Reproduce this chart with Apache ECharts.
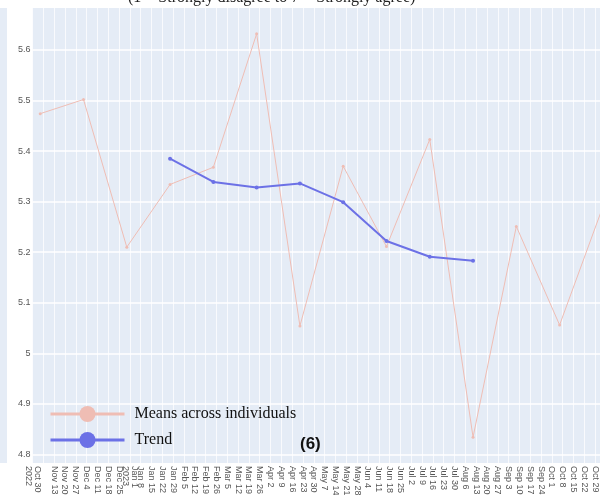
<!DOCTYPE html>
<html>
<head>
<meta charset="utf-8">
<script src="https://cdn.jsdelivr.net/npm/echarts@6/dist/echarts.min.js"></script>
<style>html,body{margin:0;padding:0;background:#fff}#chart{width:600px;height:495px}</style>
</head>
<body>
<div id="chart"></div>
<script>
// weekly tick labels, Oct 30 2022 .. Oct 29 2023
var weekLabels = ['Oct 30\n2022', 'Nov 6', 'Nov 13', 'Nov 20', 'Nov 27', 'Dec 4', 'Dec 11', 'Dec 18', 'Dec 25',
    'Jan 1\n2023', 'Jan 8', 'Jan 15', 'Jan 22', 'Jan 29', 'Feb 5', 'Feb 12', 'Feb 19', 'Feb 26',
    'Mar 5', 'Mar 12', 'Mar 19', 'Mar 26', 'Apr 2', 'Apr 9', 'Apr 16', 'Apr 23', 'Apr 30',
    'May 7', 'May 14', 'May 21', 'May 28', 'Jun 4', 'Jun 11', 'Jun 18', 'Jun 25',
    'Jul 2', 'Jul 9', 'Jul 16', 'Jul 23', 'Jul 30', 'Aug 6', 'Aug 13', 'Aug 20', 'Aug 27',
    'Sep 3', 'Sep 10', 'Sep 17', 'Sep 24', 'Oct 1', 'Oct 8', 'Oct 15', 'Oct 22', 'Oct 29'];
var startDate = '2022-10-30';
var yTicks = [4.8, 4.9, 5, 5.1, 5.2, 5.3, 5.4, 5.5, 5.6];

var meanDates = ['2022-11-04', '2022-12-02', '2022-12-30', '2023-01-27', '2023-02-24', '2023-03-24', '2023-04-21',
    '2023-05-19', '2023-06-16', '2023-07-14', '2023-08-11', '2023-09-08', '2023-10-06', '2023-11-03'];
var meanValues = [5.474, 5.502, 5.210, 5.334, 5.368, 5.632, 5.054, 5.370, 5.211, 5.423, 4.834, 5.251, 5.056, 5.29];

var trendDates = ['2023-01-27', '2023-02-24', '2023-03-24', '2023-04-21', '2023-05-19', '2023-06-16', '2023-07-14', '2023-08-11'];
var trendValues = [5.385, 5.339, 5.328, 5.336, 5.299, 5.222, 5.191, 5.183];

function weekOf(d) {
    return (Date.parse(d) - Date.parse(startDate)) / (7 * 864e5);
}
function pairs(dates, vals) {
    return dates.map(function (d, i) { return [weekOf(d), vals[i]]; });
}

var chart = echarts.init(document.getElementById('chart'));
var option = {
    animation: false,
    title: [{
        text: '(1 = Strongly disagree to 7 = Strongly agree)',
        left: 123,
        top: -15,
        textStyle: {fontFamily: 'Liberation Serif', fontSize: 16, fontWeight: 'normal', color: '#222'}
    }, {
        text: '(6)',
        left: 295,
        top: 431,
        textStyle: {fontFamily: 'Liberation Sans', fontSize: 17, fontWeight: 'bold', color: '#111'}
    }],
    graphic: [{
        type: 'rect', z: -10,
        shape: {x: 0, y: 8, width: 7, height: 455},
        style: {fill: '#E5ECF6'}
    }],
    legend: {
        left: 49,
        top: 406,
        padding: 0,
        orient: 'vertical',
        itemWidth: 74,
        itemHeight: 20,
        itemGap: 10,
        lineStyle: {width: 3},
        textStyle: {fontFamily: 'Liberation Serif', fontSize: 16, color: '#111', padding: [0, 0, 0, 5]},
        data: ['Means across individuals', 'Trend']
    },
    grid: {
        left: 32.5,
        top: 8,
        width: 584.3,
        height: 455,
        outerBoundsMode: 'none',
        containLabel: false,
        show: true,
        backgroundColor: '#E5ECF6',
        borderWidth: 0
    },
    xAxis: {
        type: 'value',
        min: 0,
        max: 54,
        interval: 1,
        axisLine: {show: false},
        axisTick: {show: false},
        splitLine: {lineStyle: {color: '#ffffff', width: 1, opacity: 0.75}},
        axisLabel: {
            rotate: -90,
            margin: 3,
            fontSize: 9,
            lineHeight: 9,
            color: '#555',
            fontFamily: 'Liberation Sans',
            showMinLabel: true,
            formatter: function (v) { return weekLabels[v] || ''; }
        }
    },
    yAxis: {
        type: 'value',
        min: 4.783,
        max: 5.683,
        axisLine: {show: false},
        axisTick: {show: false, customValues: yTicks},
        splitLine: {lineStyle: {color: '#ffffff', width: 1.5}},
        axisLabel: {customValues: yTicks, fontSize: 9, color: '#555', margin: 2, fontFamily: 'Liberation Sans'}
    },
    series: [{
        name: 'Means across individuals',
        type: 'line',
        data: pairs(meanDates, meanValues),
        symbol: 'circle',
        symbolSize: 3,
        color: '#EFBDB4',
        lineStyle: {width: 1}
    }, {
        name: 'Trend',
        type: 'line',
        data: pairs(trendDates, trendValues),
        symbol: 'circle',
        symbolSize: 4,
        color: '#6C71E6',
        lineStyle: {width: 2}
    }]
};
chart.setOption(option);
</script>
</body>
</html>
